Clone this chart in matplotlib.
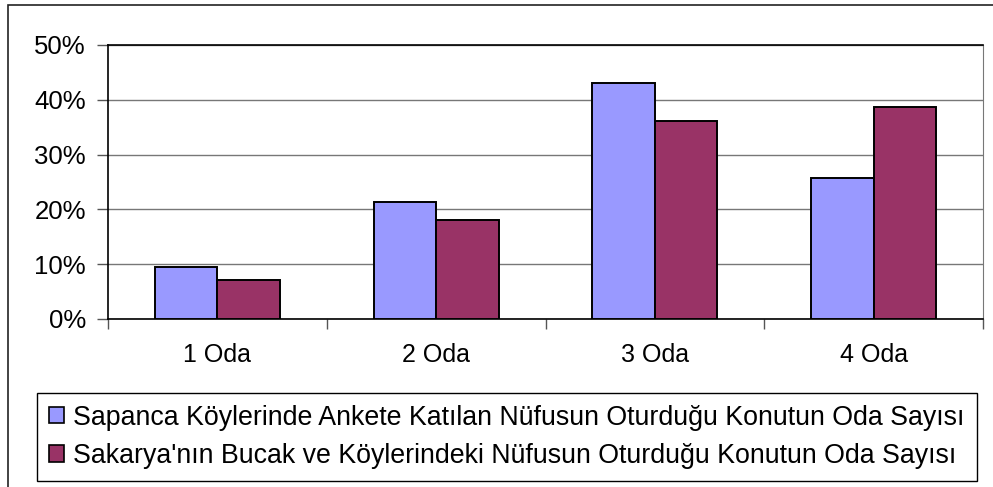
import matplotlib
matplotlib.use("Agg")
import numpy as np
import matplotlib.pyplot as plt
from matplotlib.patches import Rectangle
from matplotlib.ticker import FixedLocator, PercentFormatter

# ── data ─────────────────────────────────────────────────────────────────────
categories = ["1 Oda", "2 Oda", "3 Oda", "4 Oda"]
sapanca    = [9.5, 21.4, 43.0, 25.7]
sakarya    = [7.1, 18.0, 36.1, 38.6]
labels = [
    "Sapanca Köylerinde Ankete Katılan Nüfusun Oturduğu Konutun Oda Sayısı",
    "Sakarya'nın Bucak ve Köylerindeki Nüfusun Oturduğu Konutun Oda Sayısı",
]
y_ticks = [0, 10, 20, 30, 40, 50]

BLUE   = "#9999FF"
MAROON = "#993366"
W, H = 993, 487

plt.rcParams["font.family"] = ["Liberation Sans", "DejaVu Sans"]

fig = plt.figure(figsize=(W / 100, H / 100), dpi=100, facecolor="white")

# outer chart border (only top/left visible in the reference)
fig.patches.append(Rectangle((8 / W, -0.1), 1.2, 1 - 5 / H + 0.1,
                             transform=fig.transFigure, fill=False,
                             edgecolor="#222222", linewidth=1.2))

ax = fig.add_axes([108 / W, 1 - 319 / H, (983 - 108) / W, (319 - 45) / H])

x = np.arange(len(categories))
bw = 1 / 3.5
ax.bar(x - bw / 2, sapanca, width=bw, color=BLUE, edgecolor="black",
       linewidth=1.4, zorder=3)
ax.bar(x + bw / 2, sakarya, width=bw, color=MAROON, edgecolor="black",
       linewidth=1.4, zorder=3)

ax.set_xlim(-0.5, len(categories) - 0.5)
ax.set_ylim(0, 50)
ax.set_yticks(y_ticks)
ax.yaxis.set_major_formatter(PercentFormatter(decimals=0))
ax.yaxis.grid(True, color="#777777", linewidth=1)
ax.set_axisbelow(True)

# category boundaries as ticks, labels in the middle
ax.xaxis.set_major_locator(FixedLocator(np.arange(len(categories) + 1) - 0.5))
ax.xaxis.set_minor_locator(FixedLocator(x))
ax.set_xticklabels([])
ax.set_xticklabels(categories, minor=True)
ax.tick_params(axis="x", which="major", length=7, width=1, color="#555555")
ax.tick_params(axis="x", which="minor", length=0, pad=17, labelsize=18)
ax.tick_params(axis="y", length=8, width=1, color="#555555", pad=8,
               labelsize=18.5)

for s in ["left", "bottom", "top"]:
    ax.spines[s].set_color("black")
    ax.spines[s].set_linewidth(1.2)
ax.spines["right"].set_color("#777777")

handles = [Rectangle((0, 0), 1, 1, facecolor=c, edgecolor="black",
                     linewidth=1.2) for c in (BLUE, MAROON)]
leg = fig.legend(handles, labels, loc="lower left",
                 bbox_to_anchor=(37 / W, 6 / H), borderaxespad=0,
                 fontsize=19.3, frameon=True, fancybox=False,
                 edgecolor="black", framealpha=1, handlelength=0.55,
                 handleheight=0.55, handletextpad=0.35, labelspacing=0.45,
                 borderpad=0.45)
leg.get_frame().set_linewidth(1)

fig.savefig("out.png", dpi=100, facecolor="white")
